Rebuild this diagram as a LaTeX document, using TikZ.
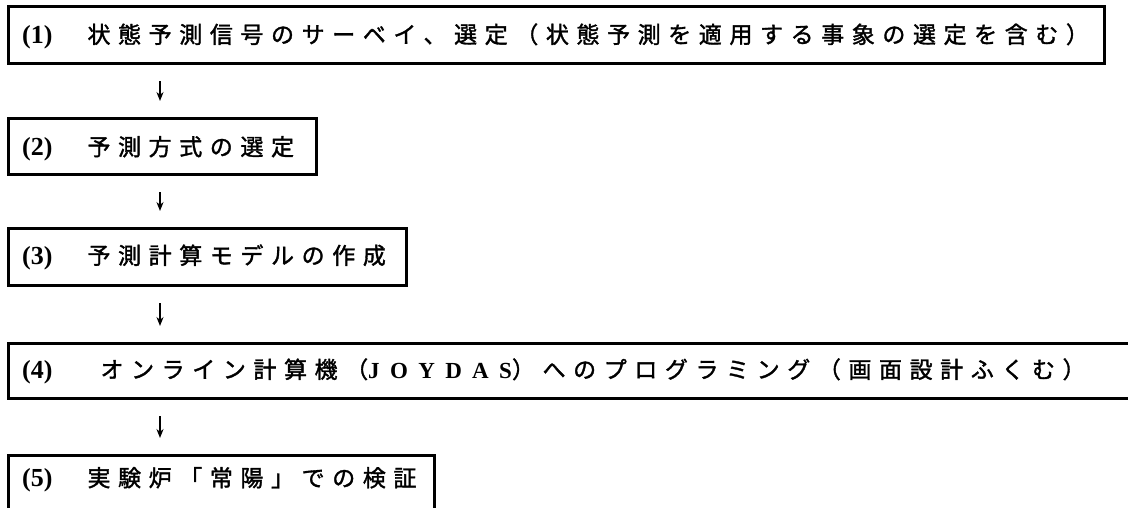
\documentclass[tikz,border=0pt]{standalone}
\usepackage{fontspec}
\setmainfont{Liberation Serif}
\newfontfamily\jp[LetterSpace=33,FakeBold=1.5]{Noto Sans CJK JP}
\newfontfamily\lat[LetterSpace=45]{Liberation Serif}
\usetikzlibrary{arrows.meta,calc}
\newcommand\stepnum[1]{{\fontsize{26}{28}\selectfont\bfseries(#1)}}
\tikzset{
  box/.style={draw, line width=3pt, anchor=north west, inner sep=0pt},
  lbl/.style={anchor=west, inner sep=0pt, font=\fontsize{23}{26}\selectfont},
  arr/.style={-{Stealth[length=9pt,width=7pt]}, line width=1.6pt, shorten <=16pt, shorten >=16pt}
}
\begin{document}
\begin{tikzpicture}[x=1pt,y=-1pt]
\useasboundingbox (0,0) rectangle (1128,507);
\clip (0,0) rectangle (1128,507);
\fill[white] (0,0) rectangle (1128,507);
% boxes
\node[box, minimum width=1096pt, minimum height=57pt] (b1) at (7,5) {};
\node[box, minimum width=308pt, minimum height=56pt] (b2) at (7,117) {};
\node[box, minimum width=398pt, minimum height=57pt] (b3) at (7,227) {};
\node[box, minimum width=1140pt, minimum height=55pt] (b4) at (7,342) {};
\node[box, minimum width=426pt, minimum height=56pt] (b5) at (7,454) {};
% texts
\node[lbl] (t1) at ($(b1.west)+(15,1)$) {\stepnum{1}\hspace{35pt}{\jp 状態予測信号のサーベイ、選定（状態予測を適用する事象の選定を含む）}};
\node[lbl] (t2) at ($(b2.west)+(15,2)$) {\stepnum{2}\hspace{35pt}{\jp 予測方式の選定}};
\node[lbl] (t3) at ($(b3.west)+(15,0)$) {\stepnum{3}\hspace{35pt}{\jp 予測計算モデルの作成}};
\node[lbl] (t4) at ($(b4.west)+(15,0)$) {\stepnum{4}\hspace{48pt}{\jp オンライン計算機（}{\lat\bfseries JOYDAS}{\jp ）へのプログラミング（画面設計ふくむ）}};
\node[lbl] (t5) at ($(b5.west)+(15,-4)$) {\stepnum{5}\hspace{35pt}{\jp 実験炉「常陽」での検証}};
% arrows
\coordinate (ax) at (160,0);
\draw[arr] (b1.south -| ax) -- (b2.north -| ax);
\draw[arr] (b2.south -| ax) -- (b3.north -| ax);
\draw[arr] (b3.south -| ax) -- (b4.north -| ax);
\draw[arr] (b4.south -| ax) -- (b5.north -| ax);
\end{tikzpicture}
\end{document}
